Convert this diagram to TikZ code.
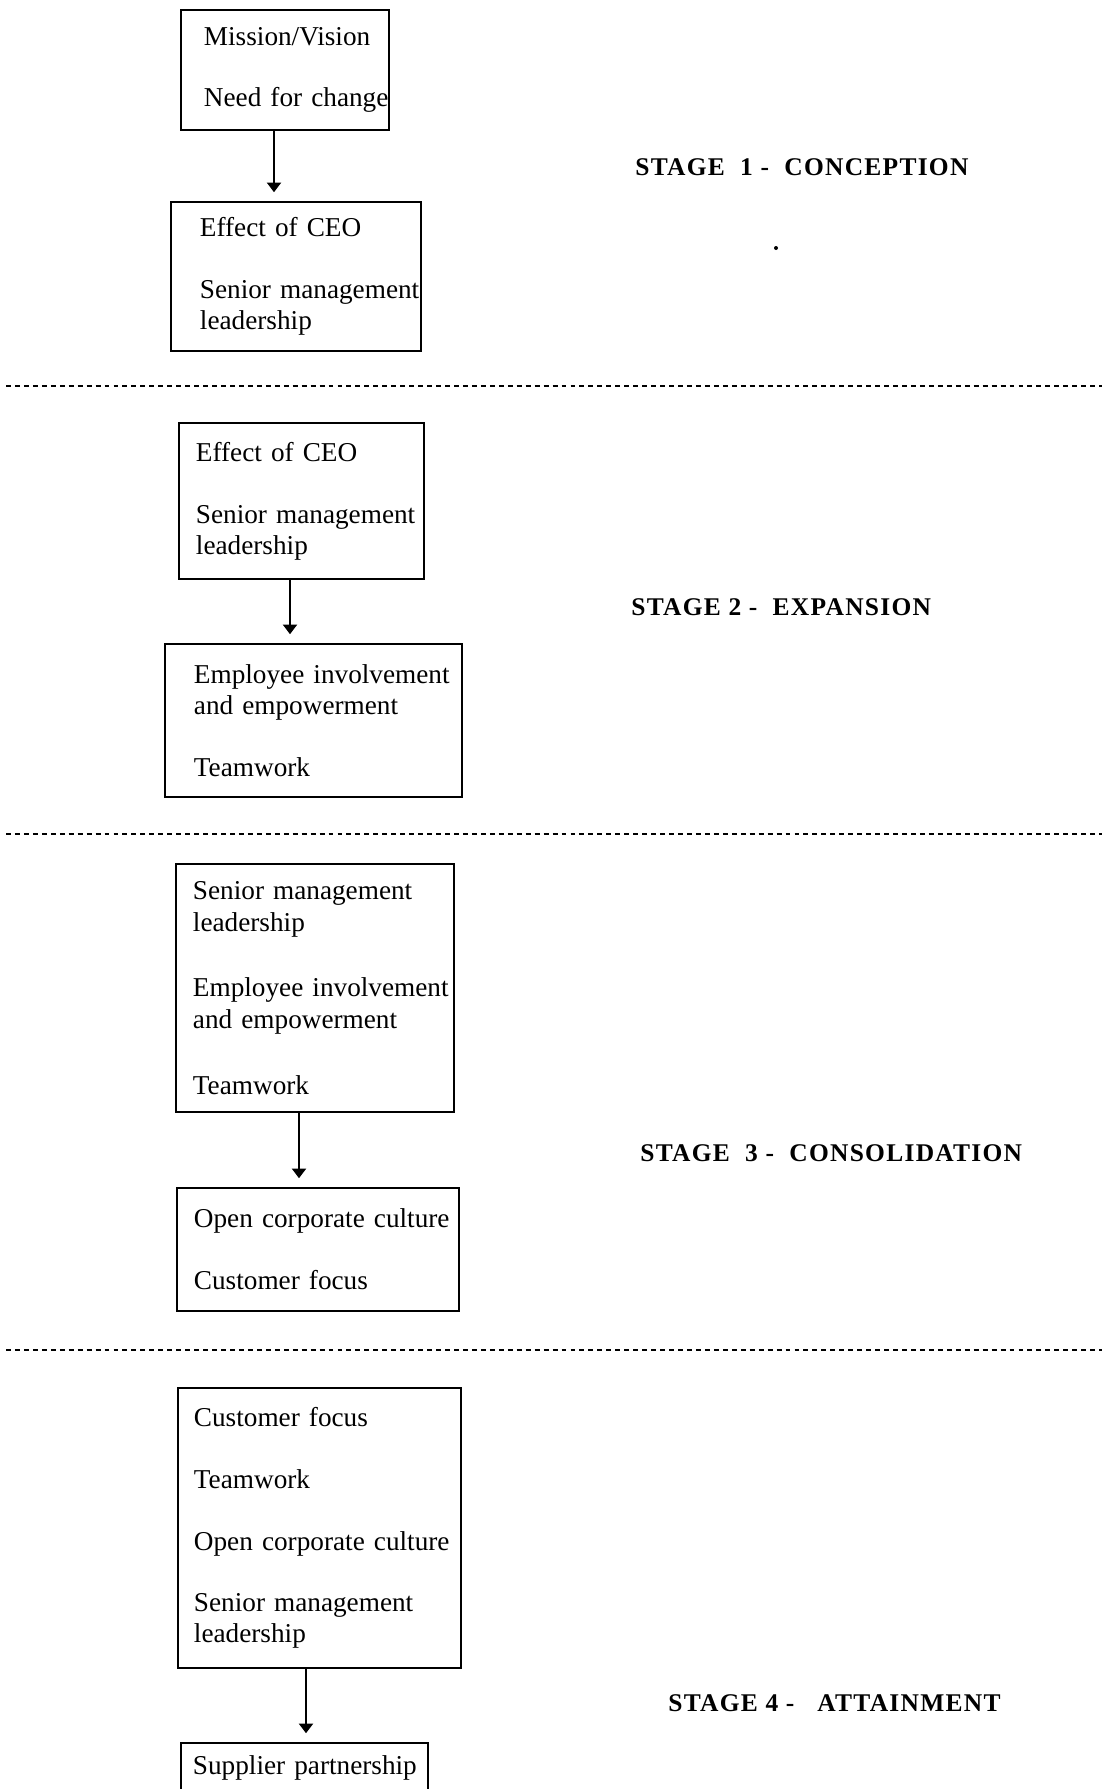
\documentclass[tikz,border=0pt]{standalone}
\usepackage{fontspec}
\setmainfont{Liberation Serif}
\newfontfamily\stagefont[LetterSpace=5]{Liberation Serif}
\usetikzlibrary{arrows.meta}
\hyphenpenalty=10000
\exhyphenpenalty=10000

\tikzset{
  box/.style={shape=rectangle,draw=black,line width=1.1pt,anchor=north west,align=left,inner xsep=0pt,inner ysep=0pt,font=\fontsize{15.5}{17.6}\selectfont},
  stagelabel/.style={anchor=west,inner sep=0pt,font=\stagefont\bfseries\fontsize{14.5}{17}\selectfont},
  flow/.style={-{Triangle[length=5.5pt,width=8pt]},draw=black,line width=1.1pt,shorten >=5pt},
  divider/.style={draw=black,line width=1.1pt,dash pattern=on 2.8pt off 2.3pt}
}

\begin{document}
\begin{tikzpicture}[x=0.02cm,y=-0.02cm]
\useasboundingbox (0,0) rectangle (1105,1789);
\clip (0,0) rectangle (1105,1789);

% stage 1
\node[box,minimum width=4.16cm,minimum height=2.40cm,text width=3.24cm] (mission) at (180,9) {Mission/Vision\\[17.6pt]Need~for~change};
\node[box,minimum width=5.00cm,minimum height=2.98cm,text width=3.84cm] (ceoA) at (170,201) {Effect of CEO\\[17.6pt]Senior~management\\leadership};
\node[stagelabel] (s1) at (635,167) {STAGE\ \ 1 -\ \ CONCEPTION};
\fill (776,248) circle (2);

% stage 2
\node[box,minimum width=4.90cm,minimum height=3.12cm,text width=4.22cm] (ceoB) at (178,422) {Effect of CEO\\[17.6pt]Senior~management\\leadership};
\node[box,minimum width=5.94cm,minimum height=3.06cm,text width=4.78cm] (empB) at (164,643) {Employee~involvement\\and~empowerment\\[17.6pt]Teamwork};
\node[stagelabel] (s2) at (631,607) {STAGE 2 -\ \ EXPANSION};

% stage 3
\node[box,minimum width=5.56cm,minimum height=4.96cm,text width=4.88cm,font=\fontsize{15.5}{18.3}\selectfont] (leadC) at (175,863) {Senior~management\\leadership\\[19pt]Employee~involvement\\and~empowerment\\[19pt]Teamwork\\[-6pt]};
\node[box,minimum width=5.64cm,minimum height=2.46cm,text width=4.96cm] (cultC) at (176,1187) {Open~corporate~culture\\[17.6pt]Customer~focus};
\node[stagelabel] (s3) at (640,1153) {STAGE\ \ 3 -\ \ CONSOLIDATION};

% stage 4
\node[box,minimum width=5.66cm,minimum height=5.60cm,text width=5.02cm] (custD) at (177,1387) {Customer~focus\\[17.6pt]Teamwork\\[17.6pt]Open~corporate~culture\\[17.6pt]Senior~management\\leadership};
\node[box,minimum width=4.94cm,minimum height=1.00cm,text width=4.46cm] (supplier) at (180,1742) {Supplier~partnership};
\node[stagelabel] (s4) at (668,1703) {STAGE 4 -\ \ \ ATTAINMENT};

\path[flow] (mission.south -| 274,0) -- (ceoA.north -| 274,0);
\path[flow] (ceoB.south -| 290,0) -- (empB.north -| 290,0);
\path[flow] (leadC.south -| 299,0) -- (cultC.north -| 299,0);
\path[flow] (custD.south -| 306,0) -- (supplier.north -| 306,0);

\draw[divider] (6,386) -- (1102,386);
\draw[divider] (6,834) -- (1102,834);
\draw[divider] (6,1350) -- (1102,1350);
\end{tikzpicture}
\end{document}
